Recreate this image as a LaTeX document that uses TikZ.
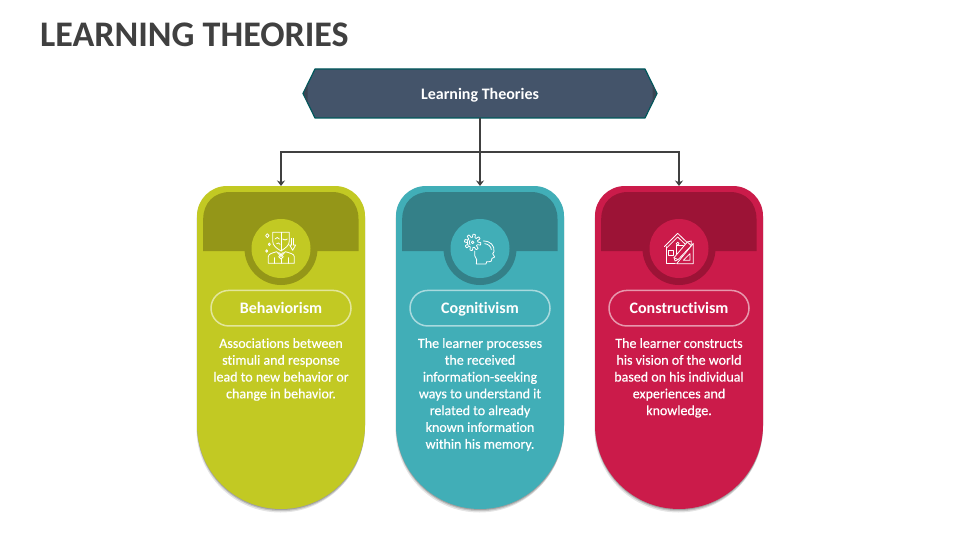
\documentclass[tikz,border=0pt]{standalone}
\usepackage{fontspec}
\setmainfont[Ligatures=NoCommon]{Carlito}
\newfontfamily\bodyf[FakeBold=0.5,Ligatures=NoCommon]{Carlito}
\usetikzlibrary{arrows.meta}
\definecolor{inkc}{HTML}{404040}
\definecolor{hexfill}{HTML}{44546A}
\definecolor{hexedge}{HTML}{00585C}
\definecolor{hextip}{HTML}{3A4452}
\definecolor{oliveA}{HTML}{C2C923}
\definecolor{oliveB}{HTML}{949618}
\definecolor{tealA}{HTML}{41AEB7}
\definecolor{tealB}{HTML}{348088}
\definecolor{redA}{HTML}{CB1B4A}
\definecolor{redB}{HTML}{9C1336}
\tikzset{
  titletext/.style={font=\fontsize{36}{42}\selectfont\bfseries,text=inkc,anchor=west,inner sep=0pt},
  headtext/.style={font=\fontsize{16}{19}\selectfont\bfseries,text=white,inner sep=0pt,text height=15pt,text depth=3pt},
  bodytext/.style={font=\bodyf\fontsize{14}{16.8}\selectfont,text=white,align=center,inner sep=0pt,anchor=north},
  cardbox/.style={minimum width=168pt,minimum height=323pt,inner sep=0pt,outer sep=0pt},
  pill/.style={minimum width=140pt,minimum height=35.5pt,rounded corners=17.7pt,draw=white,draw opacity=.55,line width=1.5pt,inner sep=0pt,text=white,font=\fontsize{16}{19}\selectfont\bfseries,text height=13pt,text depth=3pt},
  link/.style={draw=inkc,line width=1.5pt},
  linkarrow/.style={link,-{Stealth[length=5.5pt,width=8pt]}},
  iconline/.style={draw=white,line width=.8pt,line join=round,line cap=round},
}
\newcommand{\cardshape}{(0,30) .. controls (0,13.4) and (13.4,0) .. (30,0) -- (138,0) .. controls (154.6,0) and (168,13.4) .. (168,30) -- (168,239) .. controls (168,285.4) and (130.4,323) .. (84,323) .. controls (37.6,323) and (0,285.4) .. (0,239) -- cycle}
% #1 name, #2 left x, #3 main colour, #4 dark colour, #5 heading, #6 body
\newcommand{\card}[6]{%
  \begin{scope}[shift={(#2,186)}]
    \fill[black,opacity=.10] [shift={(-.6,3.5)}] \cardshape;
    \fill[black,opacity=.14] [shift={(0,2.2)}] \cardshape;
    \fill[black,opacity=.18] [shift={(0,1)}] \cardshape;
    \fill[#3] \cardshape;
    \fill[#4] (6.2,65) -- (6.2,33) .. controls (6.2,17) and (17,6) .. (33,6) -- (135,6) .. controls (151,6) and (161.5,17) .. (161.5,33) -- (161.5,65) -- cycle;
    \fill[#4] (84,62.5) circle[radius=36.5];
    \fill[#3] (84,62.5) circle[radius=29.5];
    \node[cardbox] (#1) at (84,161.5) {};
    \node[pill] (#1head) at (84,122.2) {#5};
    \node[bodytext] (#1text) at (84,152) {#6};
  \end{scope}}
\begin{document}
\begin{tikzpicture}[x=1pt,y=-1pt]
\useasboundingbox (0,0) rectangle (960,540);
\fill[white] (0,0) rectangle (960,540);
\node[titletext] (maintitle) at (40,35) {LEARNING THEORIES};

\card{behav}{197}{oliveA}{oliveB}{Behaviorism}{Associations between\\stimuli and response\\lead to new behavior or\\change in behavior.}
\card{cogn}{396}{tealA}{tealB}{Cognitivism}{The learner processes\\the received\\information-seeking\\ways to understand it\\related to already\\known information\\within his memory.}
\card{constr}{595}{redA}{redB}{Constructivism}{The learner constructs\\his vision of the world\\based on his individual\\experiences and\\knowledge.}

% banner
\draw[hexedge,line width=1.2pt,fill=hexfill,line join=round] (315,69) -- (645,69) -- (657,93.5) -- (645,118) -- (315,118) -- (303,93.5) -- cycle;
\fill[hextip] (307.5,84.5) -- (303.8,93.5) -- (307.5,102.5) -- cycle;
\fill[hextip] (652.5,84.5) -- (656.2,93.5) -- (652.5,102.5) -- cycle;
\node[headtext] (banner) at (480,93.5) [minimum width=354pt,minimum height=49pt] {Learning Theories};

% connectors
\coordinate (bus) at (480,152);
\draw[linkarrow] (banner.south) -- (cogn.north);
\draw[linkarrow] (bus) -| (behav.north);
\draw[linkarrow] (bus) -| (constr.north);

% icon 1
\begin{scope}[shift={(250,215)},x=.3333pt,y=-.3333pt,iconline]
  \draw (68,52) -- (118,52) -- (118,78) .. controls (118,92) and (105,100) .. (93,108) .. controls (80,100) and (68,92) .. (68,78) -- cycle;
  \draw (93,52) -- (93,108);
  \draw (75,72) .. controls (79,66) and (85,66) .. (88,72);
  \draw (98,72) .. controls (102,76) and (108,76) .. (112,72);
  \draw (80,86) .. controls (84,82) and (88,84) .. (90,88);
  \draw (55,145) -- (55,125) .. controls (55,116) and (68,114) .. (80,110) -- (93,125) -- (106,110) .. controls (118,114) and (133,116) .. (133,125) -- (133,145) -- cycle;
  \draw (86,112) -- (100,125) -- (93,132) -- (86,125) -- (100,112);
  \draw (72,145) -- (72,128) (116,145) -- (116,128);
  \draw (93,132) -- (93,145);
  \draw (125,70) -- (125,90) (131,70) -- (131,90);
  \draw (125,90) -- (119,90) -- (128,106) -- (137,90) -- (131,90);
  \draw (52,56) -- (57,62) -- (52,68) -- (47,62) -- cycle;
  \draw (58,84) -- (61,88) -- (58,92) -- (55,88) -- cycle;
  \draw (50,104) -- (53,108) -- (50,112) -- (47,108) -- cycle;
\end{scope}

% icon 2
\begin{scope}[shift={(450,215)},x=.3333pt,y=-.3333pt,iconline]
  \draw (100,78) .. controls (122,78) and (134,92) .. (132,110) -- (128,116) -- (134,126) -- (126,130) .. controls (127,138) and (124,141) .. (110,140) -- (108,147) -- (79,147) -- (80,134) .. controls (75,128) and (72,118) .. (74,108);
  \draw (104,86) .. controls (115,87) and (123,94) .. (124,104);
  \draw[shift={(68,82)},fill=tealA] plot[domain=0:360,samples=121,smooth] ({\x}:{20+4.5*max(-1,min(1,3*sin(8*\x)))}) -- cycle;
  \draw (68,82) circle[radius=4];
  \draw (60,75) .. controls (57,79) and (57,85) .. (60,89);
  \draw (55,71) .. controls (50,77) and (50,87) .. (55,93);
\end{scope}

% icon 3
\begin{scope}[shift={(650,215)},x=.3333pt,y=-.3333pt,iconline]
  \draw (43,95) -- (83,55) -- (113,84);
  \draw (49,100) -- (83,66) -- (106,88);
  \draw (48,95) -- (48,145) -- (76,145);
  \draw (55,105) rectangle (70,122);
  \draw (83,86) circle[radius=4.5];
  \draw (100,92) -- (78,92) -- (78,128);
  \draw (130,85) -- (130,146) -- (80,146) -- cycle;
  \draw (120,116) -- (120,136) -- (100,136) -- cycle;
  \draw[fill=redA] (112,81) -- (124,78) -- (124,92) -- (84,134) -- (75,138) -- (72,128) -- cycle;
  \draw (72,128) -- (84,134);
  \draw (112,81) -- (124,92);
\end{scope}
\end{tikzpicture}
\end{document}
